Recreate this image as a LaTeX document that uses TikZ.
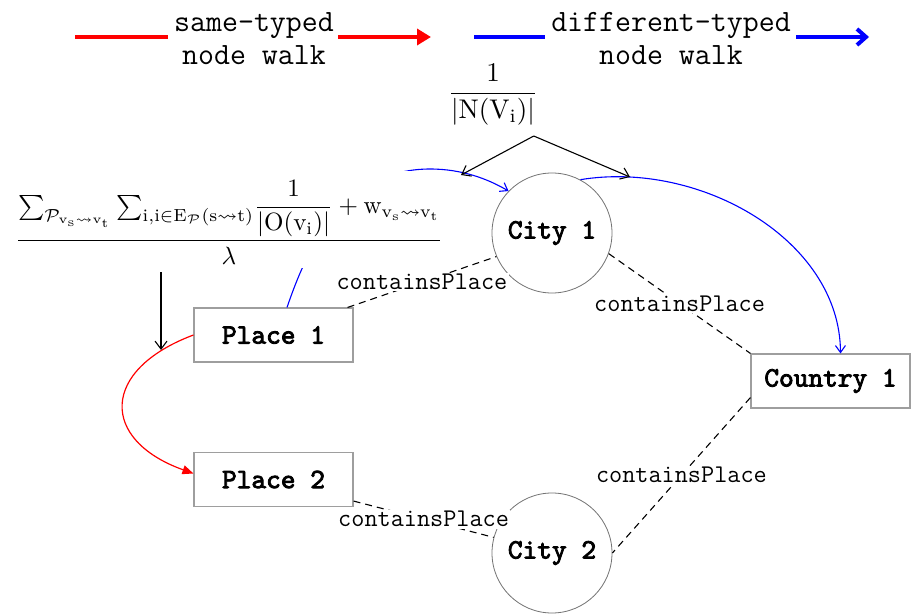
\documentclass[tikz,border=0pt]{standalone}
\usepackage{amsmath,amssymb}
\usepackage{fontspec}
\newfontfamily\nodefont{lmmono10-regular.otf}[FakeBold=3]
\usetikzlibrary{arrows.meta,calc}

\begin{document}
\begin{tikzpicture}[x=1pt,y=-1pt,
  every node/.style={inner sep=0pt},
  legtext/.style={align=center,font=\ttfamily\fontsize{31}{33}\selectfont},
  entity/.style={draw=black!38,line width=1.1pt,fill=white,minimum width=159pt,
    minimum height=54pt,font=\nodefont\fontsize{28}{28}\selectfont},
  cityc/.style={circle,draw=black!55,line width=0.8pt,fill=white,minimum size=120pt,
    font=\nodefont\fontsize{28}{28}\selectfont},
  rel/.style={line width=1.1pt,dash pattern=on 7pt off 5pt},
  rellabel/.style={fill=white,inner sep=1.5pt,font=\ttfamily\fontsize{25.5}{25.5}\selectfont},
  samewalk/.style={red,line width=1.2pt,-{Triangle[length=11pt,width=9pt]}},
  diffwalk/.style={blue,line width=1.1pt,-{Straight Barb[length=7pt,width=10pt]}},
  pointer/.style={black,line width=1.1pt,-{Straight Barb[length=8pt,width=12pt]}}]
\useasboundingbox (0,0) rectangle (914,615);

% legend
\coordinate (ra) at (75,37);   \coordinate (rb) at (168,37);
\coordinate (rc) at (338,37);  \coordinate (rd) at (431,37);
\coordinate (ba) at (474,37);  \coordinate (bb) at (545,37);
\coordinate (bc) at (796,37);  \coordinate (bd) at (869,37);
\draw[red,line width=4pt] (ra) -- (rb);
\draw[red,line width=4pt,-{Triangle[length=14pt,width=16pt]}] (rc) -- (rd);
\draw[blue,line width=4pt] (ba) -- (bb);
\draw[blue,line width=4pt,-{Straight Barb[length=9pt,width=16pt]}] (bc) -- (bd);
\node[legtext] (same) at (254,39) {same-typed\\node walk};
\node[legtext] (diff) at (671,39) {different-typed\\node walk};

% entities
\node[entity] (P1) at (273.5,335) {Place 1};
\node[entity] (P2) at (273.5,479.5) {Place 2};
\node[entity] (Co1) at (830.5,381) {Country 1};
\node[cityc] (C1) at (552,233) {City 1};
\node[cityc] (C2) at (552,553) {City 2};

% containsPlace relations
\draw[rel] ($(P1.north east)+(-6,0)$) -- node[rellabel]{containsPlace} (C1.203);
\draw[rel] (C1.340) -- node[rellabel]{containsPlace} (Co1.north west);
\draw[rel] ($(Co1.south west)+(0,-11)$) -- node[rellabel]{containsPlace} (C2.east);
\draw[rel] ($(P2.south east)+(0,-6)$) -- node[rellabel]{containsPlace} (C2.165);

% walks
\draw[diffwalk] ($(P1.north)+(13.5,0)$) .. controls (305,255) and (340,169) .. (430,169)
  .. controls (462,169) and (488,179) .. (C1.136);
\draw[diffwalk] (C1.62) .. controls (700,160) and (840,240) .. ($(Co1.north)+(10,0)$);
\draw[samewalk] (P1.west) .. controls (100,370) and (100,440) .. ($(P2.west)+(0,-6)$);

% transition probabilities
\node[fill=white,scale=2.5,inner sep=1.5pt,text height=29pt,anchor=base] (F) at (229,247)
  {$\dfrac{{\textstyle\sum_{\mathcal{P}_{\mathrm{v_s}\leadsto\mathrm{v_t}}}
     \sum_{\mathrm{i,i}\in\mathrm{E}_{\mathcal{P}}(\mathrm{s}\leadsto\mathrm{t})}}
     \dfrac{1}{|\mathrm{O}(\mathrm{v_i})|}+\mathrm{w}_{\mathrm{v_s}\leadsto\mathrm{v_t}}}{\lambda}$};
\node[scale=2.7] (N) at (493,95) {$\dfrac{1}{|\mathrm{N}(\mathrm{V_i})|}$};

\coordinate (tA) at (461,175);
\coordinate (tB) at (630,177);
\coordinate (tC) at (161,350);
\coordinate (apex) at ($(N.south east)+(-5,10)$);
\draw[pointer] (apex) -- (tA);
\draw[pointer] (apex) -- (tB);
\draw[pointer,shorten <=4pt] (F.south -| tC) -- (tC);
\end{tikzpicture}
\end{document}
